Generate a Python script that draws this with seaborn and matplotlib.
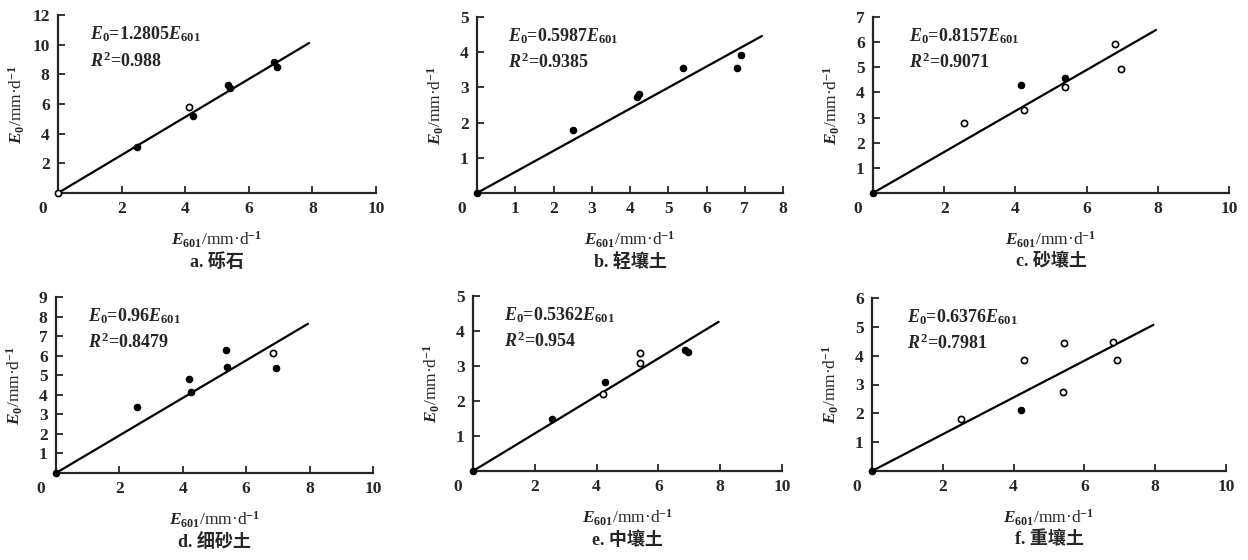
import numpy as np
import pandas as pd
import seaborn as sns
import matplotlib
matplotlib.use('Agg')
import matplotlib.pyplot as plt
from matplotlib.transforms import ScaledTranslation

#%% Data
# x = E601 (mm/d), y = E0 (mm/d), filled = solid marker (1) or open (0)
x_a = [0, 2.47, 4.13, 4.23, 5.36, 5.41, 6.78, 6.88]
y_a = [0, 3.10, 5.80, 5.18, 7.27, 7.10, 8.85, 8.50]
f_a = [0, 1, 0, 1, 1, 1, 1, 1]

x_b = [0, 2.50, 4.17, 4.23, 5.39, 6.80, 6.91]
y_b = [0, 1.80, 2.73, 2.80, 3.56, 3.56, 3.93]
f_b = [1, 1, 1, 1, 1, 1, 1]

x_c = [0, 2.55, 4.17, 4.24, 5.38, 5.40, 6.81, 6.96]
y_c = [0, 2.78, 4.31, 3.29, 4.59, 4.22, 5.91, 4.95]
f_c = [1, 0, 1, 0, 1, 0, 0, 0]

x_d = [0, 2.55, 4.19, 4.25, 5.37, 5.39, 6.83, 6.93]
y_d = [0, 3.36, 4.81, 4.13, 6.30, 5.41, 6.13, 5.39]
f_d = [1, 1, 1, 1, 1, 1, 0, 1]

x_e = [0, 2.57, 4.20, 4.28, 5.41, 5.41, 6.87, 6.95]
y_e = [0, 1.50, 2.20, 2.53, 3.36, 3.10, 3.46, 3.41]
f_e = [1, 1, 0, 1, 0, 0, 1, 1]

x_f = [0, 2.52, 4.20, 4.28, 5.41, 5.39, 6.80, 6.93]
y_f = [0, 1.80, 2.13, 3.86, 4.44, 2.74, 4.49, 3.86]
f_f = [1, 0, 1, 0, 0, 0, 0, 0]

slopes = [1.2805, 0.5987, 0.8157, 0.96, 0.5362, 0.6376]
r2_labels = ['0.988', '0.9385', '0.9071', '0.8479', '0.954', '0.7981']
slope_labels = ['1.2805', '0.5987', '0.8157', '0.96', '0.5362', '0.6376']
line_end = [7.9, 7.45, 7.95, 7.95, 7.95, 7.95]
captions = ['a. 砾石', 'b. 轻壤土', 'c. 砂壤土', 'd. 细砂土', 'e. 中壤土', 'f. 重壤土']
x_ticks = [np.arange(0, 11, 2), np.arange(0, 9, 1), np.arange(0, 11, 2),
           np.arange(0, 11, 2), np.arange(0, 11, 2), np.arange(0, 11, 2)]
y_ticks = [np.arange(2, 13, 2), np.arange(1, 6), np.arange(1, 8),
           np.arange(1, 10), np.arange(1, 6), np.arange(1, 7)]

panels = [(x_a, y_a, f_a), (x_b, y_b, f_b), (x_c, y_c, f_c),
          (x_d, y_d, f_d), (x_e, y_e, f_e), (x_f, y_f, f_f)]

#%% Style
sns.set_style('ticks')
plt.rcParams['font.family'] = ['Liberation Serif', 'Noto Sans CJK SC']
plt.rcParams['font.weight'] = 'bold'
plt.rcParams['mathtext.fontset'] = 'custom'
plt.rcParams['mathtext.rm'] = 'Liberation Serif:bold'
plt.rcParams['mathtext.it'] = 'Liberation Serif:italic:bold'
plt.rcParams['mathtext.bf'] = 'Liberation Serif:bold'

W, H = 1248, 560
fig = plt.figure(figsize=(W / 100, H / 100), dpi=100)

# axes boxes in pixels: left, bottom, right, top (top-down coords)
boxes = [(58, 193, 376, 15), (477, 193, 783, 17), (873, 193, 1229, 17),
         (56, 473, 373, 297), (473, 471, 782, 296), (872, 471, 1226, 298)]

for i, ((xs, ys, fs), box) in enumerate(zip(panels, boxes)):
    l, b, r, t = box
    ax = fig.add_axes([l / W, 1 - b / H, (r - l) / W, (b - t) / H])
    df = pd.DataFrame({'x': xs, 'y': ys, 'filled': fs})

    xl = np.array([0, line_end[i]])
    sns.lineplot(x=xl, y=slopes[i] * xl, color='black', lw=1.6, ax=ax)
    sns.scatterplot(data=df[df.filled == 1], x='x', y='y', color='black',
                    edgecolor='black', s=20, linewidth=1, ax=ax, clip_on=False, zorder=3)
    sns.scatterplot(data=df[df.filled == 0], x='x', y='y', color='white',
                    edgecolor='black', s=20, linewidth=1.2, ax=ax, clip_on=False, zorder=3)

    ax.set_xlim(0, x_ticks[i][-1])
    ax.set_ylim(0, y_ticks[i][-1])
    ax.set_xticks(x_ticks[i])
    ax.set_yticks(y_ticks[i])
    ax.tick_params(direction='in', length=5, width=1.3, labelsize=12.5, pad=6)
    for lab in ax.get_xticklabels() + ax.get_yticklabels():
        lab.set_fontweight('bold')
    # origin label sits left of the corner
    ax.get_xticklabels()[0].set_transform(
        ax.get_xticklabels()[0].get_transform() + ScaledTranslation(-0.15, 0, fig.dpi_scale_trans))
    sns.despine(ax=ax)
    for s in ['left', 'bottom']:
        ax.spines[s].set_linewidth(1.6)

    ax.set_xlabel(r'$E_{601}$/mm·d$^{-1}$', fontsize=12.5, va='center')
    ax.set_ylabel(r'$E_0$/mm·d$^{-1}$', fontsize=12.5, va='center')
    ax.xaxis.set_label_coords(0.5, -47 / (b - t))
    ax.yaxis.set_label_coords(-41 / (r - l), 0.5)

    ax.text(0.10, 0.89, r'$E_0$=' + slope_labels[i] + r'$E_{601}$',
            transform=ax.transAxes, fontsize=13, va='center', ha='left')
    ax.text(0.10, 0.74, r'$R^2$=' + r2_labels[i],
            transform=ax.transAxes, fontsize=13, va='center', ha='left')
    ax.annotate(captions[i], xy=(0.5, 0), xycoords='axes fraction',
                xytext=(0, -69 * 0.72), textcoords='offset points',
                ha='center', va='center', fontsize=13, fontweight='bold')

fig.savefig('out.png', dpi=100)
